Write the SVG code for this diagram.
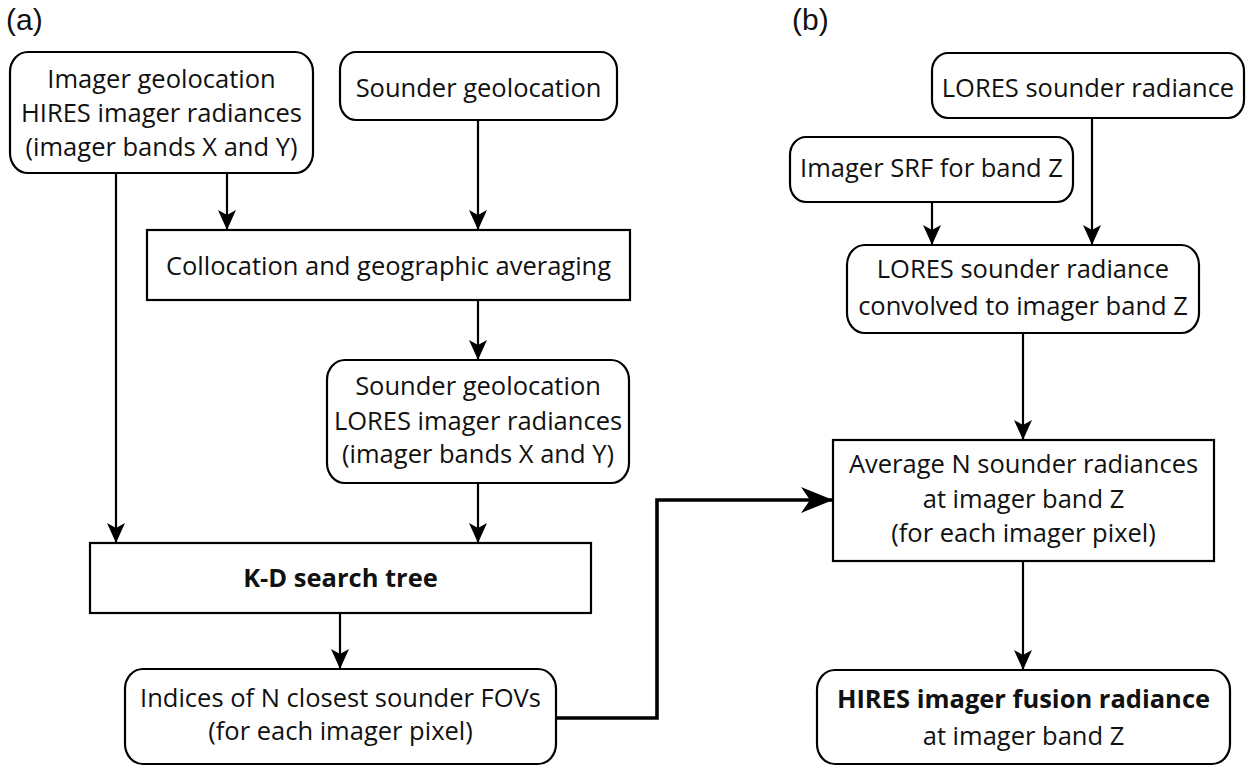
<svg xmlns="http://www.w3.org/2000/svg" width="1250" height="766" viewBox="0 0 1250 766">
<style>
.box{fill:#fff;stroke:#000;stroke-width:2.2}
.t{font-family:"Open Sans","Noto Sans",sans-serif;font-size:25.5px;fill:#111;text-anchor:middle}
.b{font-weight:bold}
.lab{font-family:"Liberation Sans",Arial,sans-serif;font-size:30px;fill:#111}
.c{fill:none;stroke:#000;stroke-width:2.2}
.ct{fill:none;stroke:#000;stroke-width:3.6}
</style>
<defs>
<marker id="ah" markerUnits="userSpaceOnUse" markerWidth="24" markerHeight="20" viewBox="-22 -10 24 20" refX="0" refY="0" orient="auto">
<path d="M0,0 L-20,-9 L-15,0 L-20,9 Z" fill="#000"/>
</marker>
<marker id="ahb" markerUnits="userSpaceOnUse" markerWidth="36" markerHeight="30" viewBox="-34 -15 36 30" refX="0" refY="0" orient="auto">
<path d="M0,0 L-32,-13 L-23,0 L-32,13 Z" fill="#000"/>
</marker>
</defs>
<rect width="1250" height="766" fill="#fff"/>
<text class="lab" x="6" y="30">(a)</text>
<text class="lab" x="792" y="30">(b)</text>
<g id="connectors">
<line class="c" x1="116" y1="173" x2="116" y2="543" marker-end="url(#ah)"/>
<line class="c" x1="227" y1="173" x2="227" y2="230" marker-end="url(#ah)"/>
<line class="c" x1="478" y1="120" x2="478" y2="230" marker-end="url(#ah)"/>
<line class="c" x1="478" y1="300" x2="478" y2="360" marker-end="url(#ah)"/>
<line class="c" x1="478" y1="483" x2="478" y2="543" marker-end="url(#ah)"/>
<line class="c" x1="340" y1="613" x2="340" y2="669" marker-end="url(#ah)"/>
<polyline class="ct" points="556,718 657,718 657,500 833,500" marker-end="url(#ahb)"/>
<line class="c" x1="1092" y1="118" x2="1092" y2="245" marker-end="url(#ah)"/>
<line class="c" x1="932" y1="202" x2="932" y2="245" marker-end="url(#ah)"/>
<line class="c" x1="1023" y1="333" x2="1023" y2="440" marker-end="url(#ah)"/>
<line class="c" x1="1023" y1="561" x2="1023" y2="670" marker-end="url(#ah)"/>
</g>
<g id="imager-geolocation">
<rect class="box" x="10" y="52" width="303" height="121" rx="18" ry="20"/>
<text class="t" x="161.5" y="88">Imager geolocation</text>
<text class="t" x="161.5" y="122">HIRES imager radiances</text>
<text class="t" x="161.5" y="156">(imager bands X and Y)</text>
</g>
<g id="sounder-geolocation">
<rect class="box" x="340" y="52" width="277" height="68" rx="16" ry="18"/>
<text class="t" x="478.5" y="97">Sounder geolocation</text>
</g>
<g id="collocation">
<rect class="box" x="147" y="230" width="483" height="70"/>
<text class="t" x="388.5" y="275">Collocation and geographic averaging</text>
</g>
<g id="lores-imager">
<rect class="box" x="327" y="360" width="302" height="123" rx="18" ry="20"/>
<text class="t" x="478" y="395">Sounder geolocation</text>
<text class="t" x="478" y="430">LORES imager radiances</text>
<text class="t" x="478" y="463">(imager bands X and Y)</text>
</g>
<g id="kd-tree">
<rect class="box" x="90" y="543" width="501" height="70"/>
<text class="t b" x="340.5" y="587">K-D search tree</text>
</g>
<g id="indices">
<rect class="box" x="125" y="669" width="431" height="95" rx="18" ry="20"/>
<text class="t" x="340.5" y="707">Indices of N closest sounder FOVs</text>
<text class="t" x="340.5" y="740">(for each imager pixel)</text>
</g>
<g id="lores-sounder">
<rect class="box" x="932" y="53" width="312" height="65" rx="16" ry="18"/>
<text class="t" x="1088" y="97">LORES sounder radiance</text>
</g>
<g id="imager-srf">
<rect class="box" x="790" y="137" width="283" height="65" rx="16" ry="18"/>
<text class="t" x="931.5" y="177">Imager SRF for band Z</text>
</g>
<g id="convolved">
<rect class="box" x="847" y="245" width="352" height="88" rx="18" ry="20"/>
<text class="t" x="1023" y="278">LORES sounder radiance</text>
<text class="t" x="1023" y="315">convolved to imager band Z</text>
</g>
<g id="average">
<rect class="box" x="833" y="440" width="381" height="121"/>
<text class="t" x="1023.5" y="473">Average N sounder radiances</text>
<text class="t" x="1023.5" y="508">at imager band Z</text>
<text class="t" x="1023.5" y="542">(for each imager pixel)</text>
</g>
<g id="fusion">
<rect class="box" x="817" y="670" width="413" height="94" rx="18" ry="20"/>
<text class="t b" x="1023.5" y="708">HIRES imager fusion radiance</text>
<text class="t" x="1023.5" y="745">at imager band Z</text>
</g>
</svg>
